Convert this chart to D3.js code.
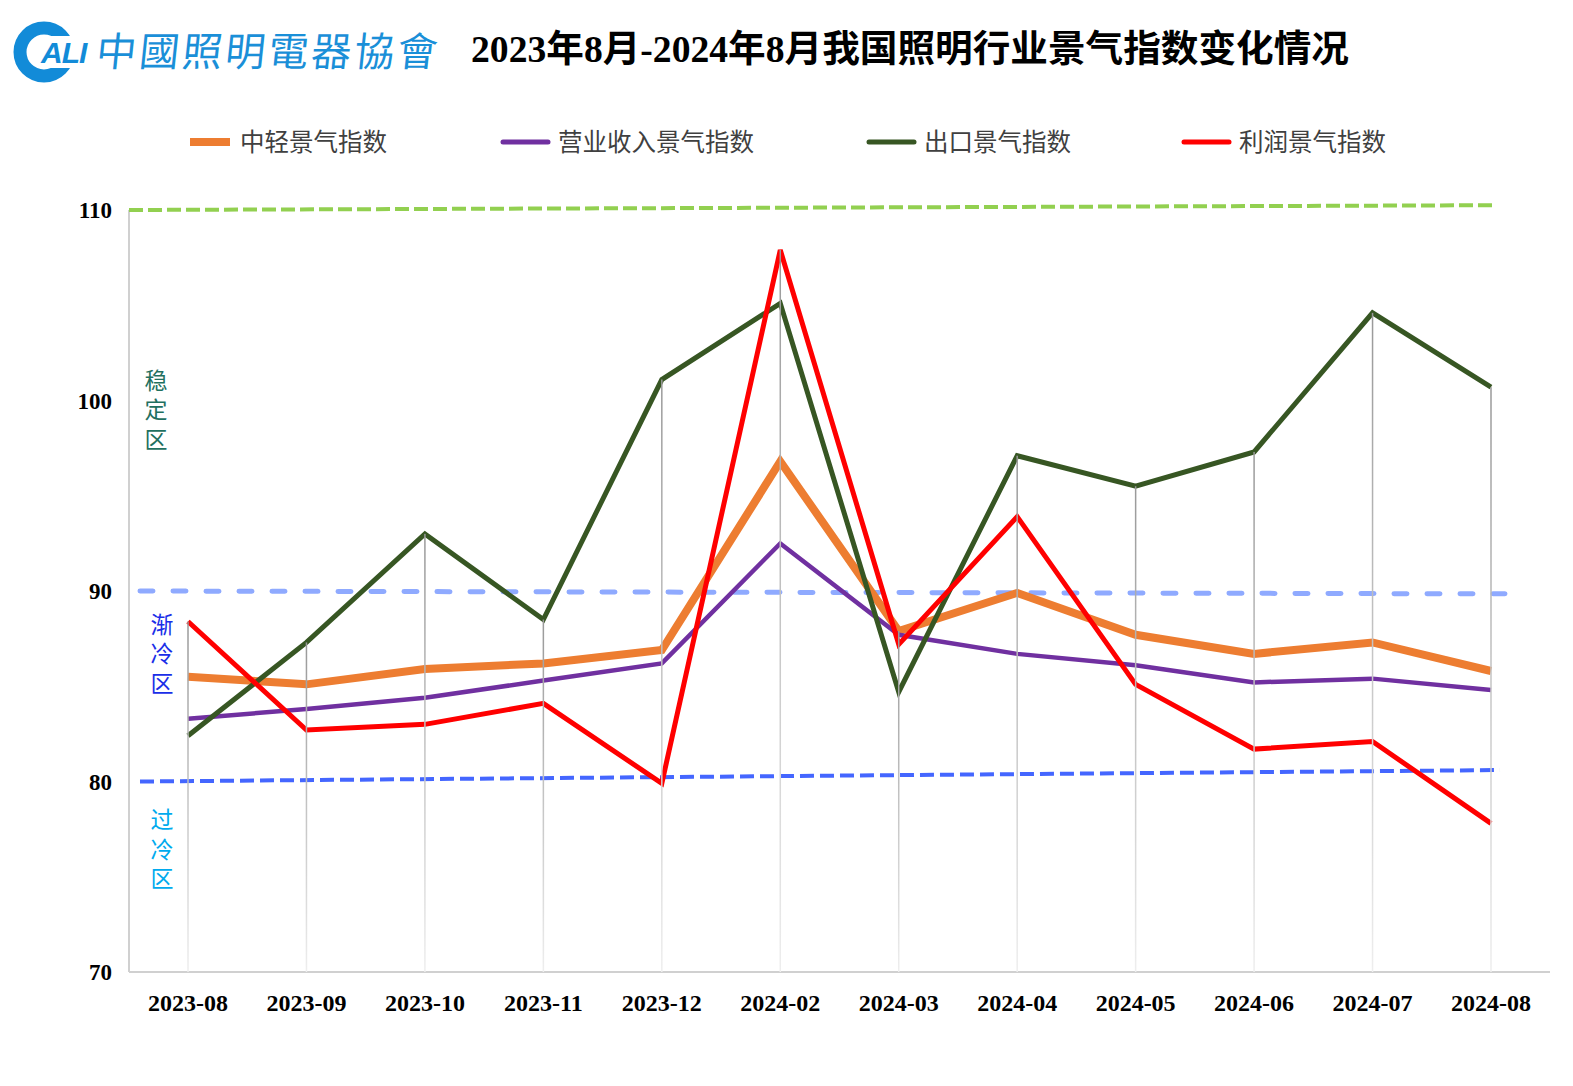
<!DOCTYPE html>
<html>
<head>
<meta charset="utf-8">
<script src="https://cdn.jsdelivr.net/npm/d3@7"></script>
<style>
  body { margin: 0; background: #fff; }
  svg { display: block; }
</style>
</head>
<body>
<svg id="chart"></svg>
<script>
// données
const months = ["2023-08", "2023-09", "2023-10", "2023-11", "2023-12", "2024-02",
    "2024-03", "2024-04", "2024-05", "2024-06", "2024-07", "2024-08"];
const lightIndex = [85.5, 85.1, 85.9, 86.2, 86.9, 96.8, 87.9, 89.9, 87.7, 86.7, 87.3, 85.8];
const revenueIndex = [83.3, 83.8, 84.4, 85.3, 86.2, 92.5, 87.7, 86.7, 86.1, 85.2, 85.4, 84.8];
const exportIndex = [82.4, 87.3, 93.0, 88.5, 101.1, 105.1, 84.7, 97.1, 95.5, 97.3, 104.6, 100.7];
const profitIndex = [88.4, 82.7, 83.0, 84.1, 79.9, 107.9, 87.2, 93.9, 85.1, 81.7, 82.1, 77.8];
const yTicks = [70, 80, 90, 100, 110];

const seriesNames = ["中轻景气指数", "营业收入景气指数", "出口景气指数", "利润景气指数"];
const seriesColors = ["#ed7d31", "#7030a0", "#375623", "#ff0000"];

// lignes de seuil (valeur à gauche, valeur à droite)
const thresholds = [
    { start: 110, end: 110.25, color: "#92d050", dash: "14,5", cap: "butt", w: 4 },
    { start: 90, end: 89.85, color: "#8faaff", dash: "13,20", cap: "round", w: 5 },
    { start: 80, end: 80.6, color: "#4466ff", dash: "14,6", cap: "butt", w: 4 }
];
const zones = [
    { name: "稳定区", value: 100.63, color: "#1f7060" },
    { name: "渐冷区", value: 87.82, color: "#1a2ee8" },
    { name: "过冷区", value: 77.56, color: "#00aaee" }
];

const width = 1573, height = 1086;
const margin = { top: 210, right: 23, bottom: 114, left: 129 };

const svg = d3.select("#chart").attr("width", width).attr("height", height);

const x = d3.scalePoint().domain(months)
    .range([188, 1491]);
const y = d3.scaleLinear().domain([70, 110])
    .range([height - margin.bottom, margin.top]);

// logo
const logo = svg.append("g");
logo.append("circle").attr("cx", 44).attr("cy", 52).attr("r", 24)
    .attr("fill", "none").attr("stroke", "#128bd8").attr("stroke-width", 13);
logo.append("rect").attr("x", 50).attr("y", 36).attr("width", 42).attr("height", 32).attr("fill", "#fff");
logo.append("text").attr("x", 41).attr("y", 63)
    .attr("font-family", "Liberation Sans, Arial").attr("font-weight", "bold")
    .attr("font-style", "italic").attr("font-size", 30).attr("fill", "#128bd8")
    .attr("letter-spacing", -1).text("ALI");
logo.append("text").attr("x", 96).attr("y", 66)
    .attr("font-family", "Noto Sans CJK TC").attr("font-size", 40)
    .attr("fill", "#1a8fd8").attr("letter-spacing", 3)
    .attr("transform", "skewX(-6)").attr("dx", 6)
    .text("中國照明電器協會");

// titre
svg.append("text").attr("x", 471).attr("y", 62)
    .attr("font-family", "Liberation Serif, Noto Sans CJK SC").attr("font-weight", "bold")
    .attr("font-size", 37).attr("fill", "#000")
    .attr("textLength", 878).attr("lengthAdjust", "spacingAndGlyphs")
    .text("2023年8月-2024年8月我国照明行业景气指数变化情况");

// légende
const legendX = [190, 503, 869, 1184];
const legendW = [40, 45, 45, 45];
const legendStroke = [8, 5, 5, 5];
const legend = svg.append("g");
seriesNames.forEach((name, i) => {
    legend.append("line").attr("x1", legendX[i]).attr("x2", legendX[i] + legendW[i])
        .attr("y1", 142).attr("y2", 142)
        .attr("stroke", seriesColors[i]).attr("stroke-width", legendStroke[i])
        .attr("stroke-linecap", i === 0 ? "butt" : "round");
    legend.append("text").attr("x", legendX[i] + legendW[i] + 10).attr("y", 151)
        .attr("font-family", "Noto Sans CJK SC").attr("font-size", 24.5)
        .attr("fill", "#404040").text(name);
});

// axes
svg.append("line").attr("x1", margin.left).attr("x2", margin.left)
    .attr("y1", margin.top).attr("y2", y(70))
    .attr("stroke", "#d0d0d0").attr("stroke-width", 2);
svg.append("line").attr("x1", margin.left).attr("x2", width - margin.right)
    .attr("y1", y(70)).attr("y2", y(70))
    .attr("stroke", "#d0d0d0").attr("stroke-width", 2);

svg.selectAll(".ytick").data(yTicks).enter().append("text")
    .attr("x", 112).attr("y", d => y(d) + 8).attr("text-anchor", "end")
    .attr("font-family", "Liberation Serif").attr("font-weight", "bold")
    .attr("font-size", 23).attr("fill", "#000").text(d => d);

svg.selectAll(".xtick").data(months).enter().append("text")
    .attr("x", d => x(d)).attr("y", 1011).attr("text-anchor", "middle")
    .attr("font-family", "Liberation Serif").attr("font-weight", "bold")
    .attr("font-size", 24).attr("fill", "#000").text(d => d);

// lignes de seuil
const thrX = [[129, 1493], [140, 1505], [140, 1500]];
thresholds.forEach((t, i) => {
    svg.append("line").attr("x1", thrX[i][0]).attr("x2", thrX[i][1])
        .attr("y1", y(t.start)).attr("y2", y(t.end))
        .attr("stroke", t.color).attr("stroke-width", t.w)
        .attr("stroke-dasharray", t.dash).attr("stroke-linecap", t.cap);
});

// zones (texte vertical, un seul élément par zone)
zones.forEach((z, i) => {
    const zx = i === 0 ? 156 : 162;
    svg.append("text").attr("x", zx).attr("y", y(z.value) - 20)
        .style("writing-mode", "vertical-rl")
        .attr("font-family", "Noto Sans CJK SC").attr("font-size", 23)
        .attr("letter-spacing", 6.6)
        .attr("fill", z.color).text(z.name);
});

// séries
const allSeries = [lightIndex, revenueIndex, exportIndex, profitIndex];
const widths = [8, 4.5, 5, 5];
const line = d3.line().x((d, i) => x(months[i])).y(d => y(d));
[0, 1, 2, 3].forEach(i => {
    svg.append("path").datum(allSeries[i])
        .attr("fill", "none").attr("stroke", seriesColors[i])
        .attr("stroke-width", widths[i]).attr("stroke-linejoin", "miter")
        .attr("stroke-miterlimit", 3)
        .attr("d", line);
});

// lignes de chute (du max jusqu'à l'axe)
const defs = svg.append("defs");
const grad = defs.append("linearGradient").attr("id", "dropGrad")
    .attr("x1", 0).attr("x2", 0).attr("y1", 0).attr("y2", 1);
grad.append("stop").attr("offset", "0%").attr("stop-color", "#999");
grad.append("stop").attr("offset", "100%").attr("stop-color", "#eee");

months.forEach((m, i) => {
    const top = d3.max(allSeries, s => s[i]);
    svg.append("rect").attr("x", x(m) - 0.75).attr("width", 1.5)
        .attr("y", y(top)).attr("height", y(70) - y(top))
        .attr("fill", "url(#dropGrad)");
});
</script>
</body>
</html>
